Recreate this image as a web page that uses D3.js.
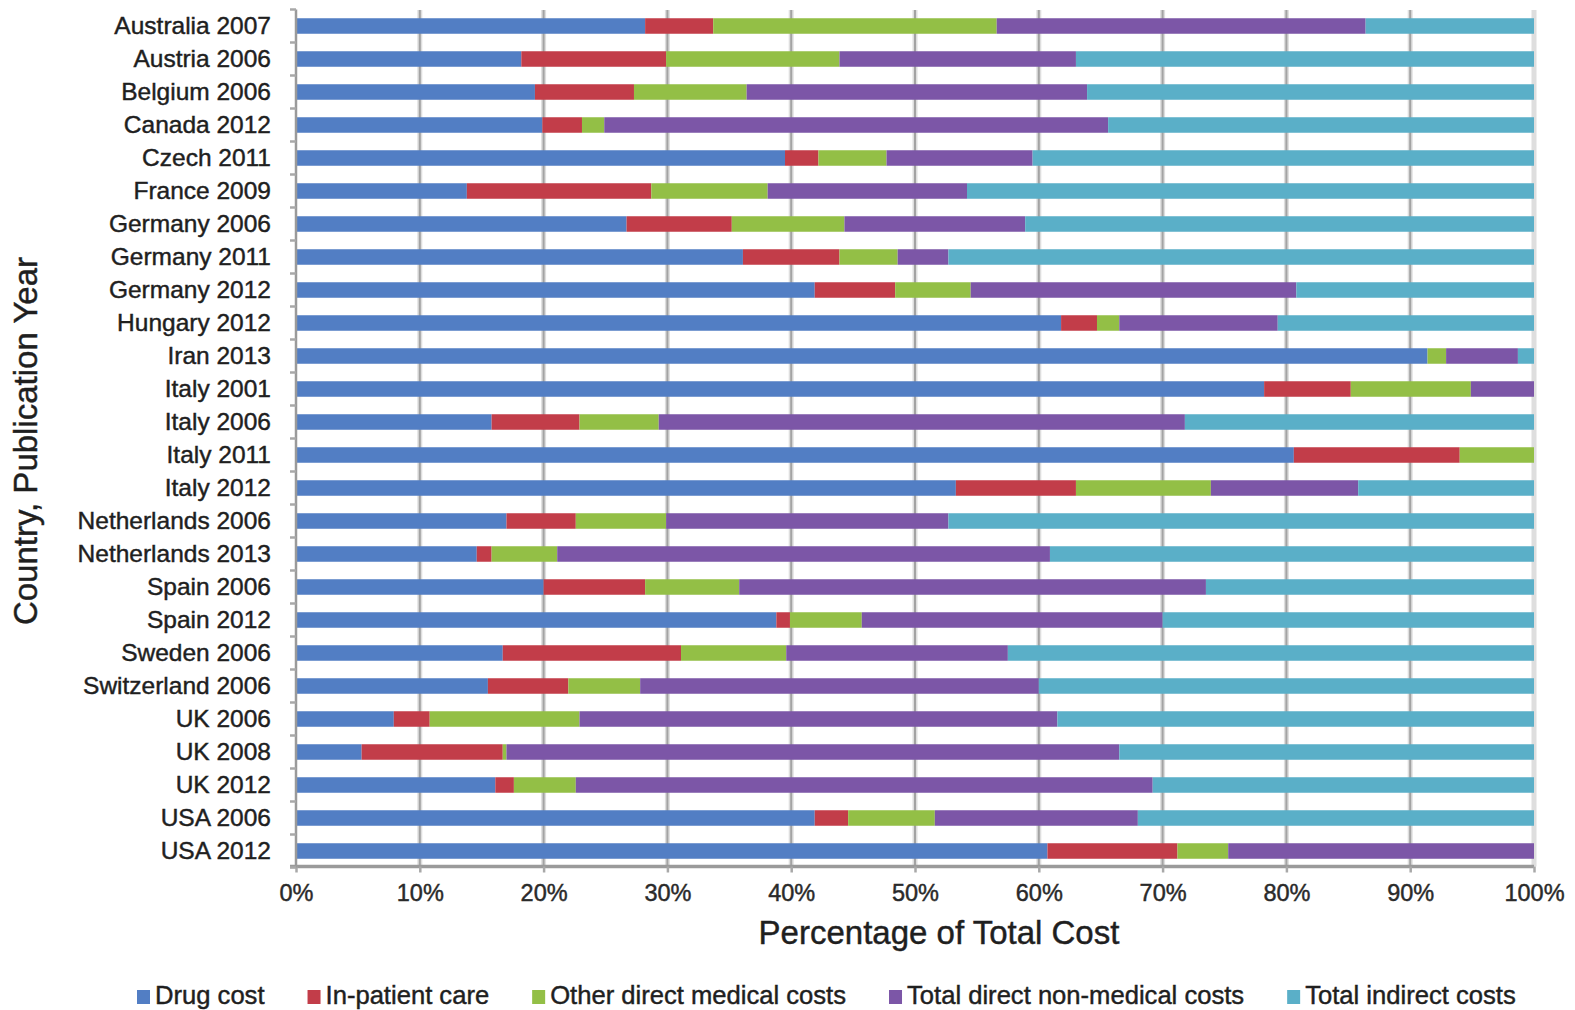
<!DOCTYPE html>
<html>
<head>
<meta charset="utf-8">
<script src="https://cdn.jsdelivr.net/npm/d3@7"></script>
<style>
  html, body { margin: 0; padding: 0; background: #ffffff; }
  svg { display: block; font-family: "Liberation Sans", Arial, sans-serif; }
  svg text { stroke: currentColor; stroke-width: 0.45px; }
</style>
</head>
<body>
<svg id="chart" width="1575" height="1010"></svg>
<script>
// Cost components by country and year of publication (share of total cost, %)
const categories = [
  "Australia 2007", "Austria 2006", "Belgium 2006", "Canada 2012", "Czech 2011",
  "France 2009", "Germany 2006", "Germany 2011", "Germany 2012", "Hungary 2012",
  "Iran 2013", "Italy 2001", "Italy 2006", "Italy 2011", "Italy 2012",
  "Netherlands 2006", "Netherlands 2013", "Spain 2006", "Spain 2012", "Sweden 2006",
  "Switzerland 2006", "UK 2006", "UK 2008", "UK 2012", "USA 2006", "USA 2012"
];

const drugCost = [
  28.2, 18.2, 19.3, 19.9, 39.5, 13.8, 26.7, 36.1, 41.9, 61.8,
  91.4, 78.2, 15.8, 80.6, 53.3, 17.0, 14.6, 20.0, 38.8, 16.7,
  15.5, 7.9, 5.3, 16.1, 41.9, 60.7
];
const inPatientCare = [
  5.5, 11.7, 8.0, 3.2, 2.7, 14.9, 8.5, 7.8, 6.5, 2.9,
  0.0, 7.0, 7.1, 13.4, 9.7, 5.6, 1.2, 8.2, 1.1, 14.4,
  6.5, 2.9, 11.4, 1.5, 2.7, 10.5
];
const otherDirectMedical = [
  22.9, 14.0, 9.1, 1.8, 5.5, 9.4, 9.1, 4.7, 6.1, 1.8,
  1.5, 9.7, 6.4, 6.0, 10.9, 7.3, 5.3, 7.6, 5.8, 8.5,
  5.8, 12.1, 0.3, 5.0, 7.0, 4.1
];
const directNonMedical = [
  29.8, 19.1, 27.5, 40.7, 11.8, 16.1, 14.6, 4.1, 26.3, 12.8,
  5.8, 5.1, 42.5, 0.0, 11.9, 22.8, 39.8, 37.7, 24.3, 17.9,
  32.2, 38.6, 49.5, 46.6, 16.4, 24.7
];
const indirectCosts = [
  13.6, 37.0, 36.1, 34.4, 40.5, 45.8, 41.1, 47.3, 19.2, 20.7,
  1.3, 0.0, 28.2, 0.0, 14.2, 47.3, 39.1, 26.5, 30.0, 42.5,
  40.0, 38.5, 33.5, 30.8, 32.0, 0.0
];

const seriesNames = [
  "Drug cost", "In-patient care", "Other direct medical costs",
  "Total direct non-medical costs", "Total indirect costs"
];
const seriesColors = ["#527ec4", "#c23d49", "#93bf46", "#7c56a7", "#5aafc8"];
const xTickValues = [0, 10, 20, 30, 40, 50, 60, 70, 80, 90, 100];

const xTitle = "Percentage of Total Cost";
const yTitle = "Country, Publication Year";

// Row table for the stack layout
const seriesValues = [drugCost, inPatientCare, otherDirectMedical, directNonMedical, indirectCosts];
const rows = categories.map((c, i) => {
  const r = { category: c };
  seriesNames.forEach((s, j) => { r[s] = seriesValues[j][i]; });
  return r;
});

const svg = d3.select("#chart");
const plot = { left: 296, right: 1534, top: 9.5, bottom: 867.5 };

const x = d3.scaleLinear().domain([0, 100]).range([plot.left, plot.right]);
const y = d3.scaleBand()
  .domain(categories)
  .range([plot.top, plot.bottom])
  .paddingInner(0.53)
  .paddingOuter(0.265);
const color = d3.scaleOrdinal().domain(seriesNames).range(seriesColors);

const textColor = "#1f1f1f";

// Vertical gridlines (soft halo + core line)
const gridY0 = plot.top + 0.5, gridY1 = plot.bottom - 1;
const grid = svg.append("g").attr("class", "grid");
grid.selectAll("line.halo")
  .data(xTickValues.slice(1))
  .join("line")
  .attr("class", "halo")
  .attr("x1", d => x(d)).attr("x2", d => x(d))
  .attr("y1", gridY0).attr("y2", gridY1)
  .attr("stroke", "#dedede").attr("stroke-width", 5);
grid.selectAll("line.core")
  .data(xTickValues.slice(1, -1))
  .join("line")
  .attr("class", "core")
  .attr("x1", d => x(d)).attr("x2", d => x(d))
  .attr("y1", gridY0).attr("y2", gridY1)
  .attr("stroke", "#a3a3a3").attr("stroke-width", 2);

// Stacked bars
const stacked = d3.stack().keys(seriesNames)(rows);
svg.append("g").attr("class", "bars")
  .selectAll("g")
  .data(stacked)
  .join("g")
  .attr("fill", d => color(d.key))
  .selectAll("rect")
  .data(d => d)
  .join("rect")
  .attr("x", d => x(d[0]))
  .attr("y", d => y(d.data.category))
  .attr("width", d => Math.max(0, x(d[1]) - x(d[0])))
  .attr("height", y.bandwidth());

// Bottom axis
const xAxis = svg.append("g")
  .attr("transform", `translate(0,${plot.bottom - 1})`)
  .call(d3.axisBottom(x).tickValues(xTickValues).tickSize(6).tickPadding(10)
    .tickFormat(d => d + "%"));
xAxis.select(".domain").attr("stroke", "#9a9a9a").attr("stroke-width", 3.5)
  .attr("d", `M${plot.left - 6},0H${plot.right}`);
xAxis.selectAll(".tick line").attr("stroke", "#a8a8a8").attr("stroke-width", 2.5);
xAxis.selectAll(".tick text")
  .attr("fill", "#2a2a2a")
  .style("color", "#2a2a2a")
  .attr("font-size", 23.5)
  .attr("font-family", "'Liberation Sans', Arial, sans-serif")
  .attr("dy", "0.78em");

// Left axis with category labels and ticks at band boundaries
const yAxis = svg.append("g")
  .attr("transform", `translate(${plot.left},0)`)
  .call(d3.axisLeft(y).tickSize(0).tickPadding(25));
yAxis.select(".domain").attr("stroke", "#9a9a9a").attr("stroke-width", 2.5)
  .attr("d", `M0,${plot.top}V${plot.bottom}`);
yAxis.selectAll(".tick text")
  .attr("fill", textColor)
  .style("color", textColor)
  .attr("font-size", 24.5)
  .attr("font-family", "'Liberation Sans', Arial, sans-serif");
const step = y.step();
const boundaries = d3.range(categories.length + 1).map(i => plot.top + i * step);
yAxis.append("g").selectAll("line")
  .data(boundaries)
  .join("line")
  .attr("x1", -6).attr("x2", 0)
  .attr("y1", d => d).attr("y2", d => d)
  .attr("stroke", "#a8a8a8").attr("stroke-width", 2.5);

// Axis titles
svg.append("text")
  .attr("x", 939).attr("y", 944)
  .attr("text-anchor", "middle")
  .attr("font-size", 33)
  .attr("fill", textColor)
  .style("color", textColor)
  .text(xTitle);

svg.append("text")
  .attr("transform", "translate(37,441) rotate(-90)")
  .attr("text-anchor", "middle")
  .attr("font-size", 33)
  .attr("fill", textColor)
  .style("color", textColor)
  .text(yTitle);

// Legend
const legend = svg.append("g").attr("class", "legend");
let lx = 137;
seriesNames.forEach(name => {
  const item = legend.append("g").attr("transform", `translate(${lx},0)`);
  item.append("rect")
    .attr("x", 0).attr("y", 990)
    .attr("width", 13).attr("height", 14)
    .attr("fill", color(name));
  const t = item.append("text")
    .attr("x", 18).attr("y", 1003.5)
    .attr("font-size", 25.6)
    .attr("fill", textColor)
    .style("color", textColor)
    .text(name);
  lx += 18 + t.node().getComputedTextLength() + 43;
});
</script>
</body>
</html>
